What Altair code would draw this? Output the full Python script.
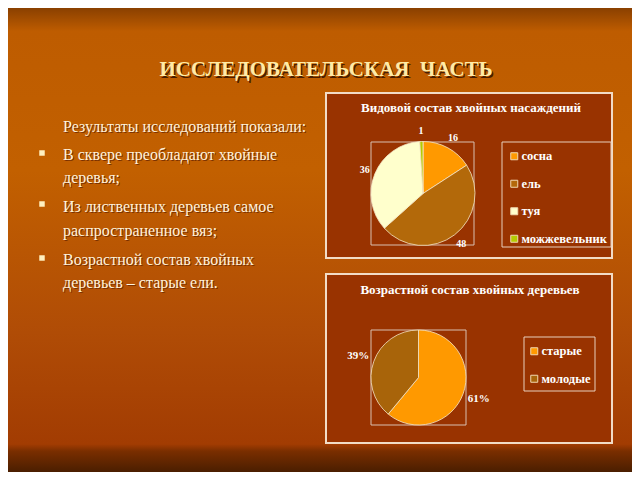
import altair as alt
import pandas as pd

# ---------------- data ----------------
slide_title = "ИССЛЕДОВАТЕЛЬСКАЯ\u00a0 ЧАСТЬ"
intro_line = "Результаты исследований показали:"
bullet_lines = [
    ["В сквере преобладают хвойные", "деревья;"],
    ["Из лиственных деревьев самое", "распространенное вяз;"],
    ["Возрастной состав хвойных", "деревьев – старые ели."],
]

chart1_title = "Видовой состав хвойных насаждений"
species = ["сосна", "ель", "туя", "можжевельник"]
species_counts = [16, 48, 36, 1]
species_colors = ["#FF9900", "#B3690A", "#FFFFCC", "#B5CC00"]

chart2_title = "Возрастной состав хвойных деревьев"
ages = ["старые", "молодые"]
age_percent = [61, 39]
age_colors = ["#FF9900", "#A8640A"]

# ---------------- helpers ----------------
W, H = 624, 464
SERIF = "Liberation Serif"
one = pd.DataFrame({"k": [0]})


def box(x1, y1, x2, y2, fill=None, stroke="#F2DCC6", sw=1.0):
    kw = dict(stroke=stroke, strokeWidth=sw)
    if fill is None:
        kw["fillOpacity"] = 0
        kw["fill"] = "#000000"
    else:
        kw["fill"] = fill
    return alt.Chart(one).mark_rect(**kw).encode(
        x=alt.value(x1), x2=alt.value(x2), y=alt.value(y1), y2=alt.value(y2)
    )


def label(text, x, y, size, color, weight="normal", align="left", dx=0, dy=0):
    return alt.Chart(pd.DataFrame({"t": [text]})).mark_text(
        font=SERIF, fontSize=size, fontWeight=weight, color=color,
        align=align, baseline="middle", dx=dx, dy=dy
    ).encode(text="t:N", x=alt.value(x), y=alt.value(y))


layers = []

# background gradient
layers.append(
    alt.Chart(one).mark_rect(
        fill=alt.LinearGradient(
            gradient="linear", x1=0, x2=0, y1=0, y2=1,
            stops=[
                alt.GradientStop(color="#8A4000", offset=0.0),
                alt.GradientStop(color="#BE5C00", offset=0.05),
                alt.GradientStop(color="#C26000", offset=0.35),
                alt.GradientStop(color="#B04C06", offset=0.7),
                alt.GradientStop(color="#A23C02", offset=0.94),
                alt.GradientStop(color="#7A2E00", offset=0.955),
                alt.GradientStop(color="#4A1E00", offset=1.0),
            ],
        )
    ).encode(x=alt.value(0), x2=alt.value(W), y=alt.value(0), y2=alt.value(H))
)

# slide title with shadow
layers.append(label(slide_title, 318, 62, 21, "#4A1E00", "bold", "center", dx=1.5, dy=1.5))
layers.append(label(slide_title, 318, 62, 21, "#FFEBA6", "bold", "center"))

# body text
text_color = "#FFF3DC"
shadow_color = "#7A3000"
layers.append(label(intro_line, 55, 119, 16, shadow_color, dx=1, dy=1))
layers.append(label(intro_line, 55, 119, 16, text_color))
line_ys = [(147, 170), (199, 223), (252, 275)]
bullet_ys = [145, 196, 250]
for (l1, l2), (y1, y2), by in zip(bullet_lines, line_ys, bullet_ys):
    for t, yy in ((l1, y1), (l2, y2)):
        layers.append(label(t, 55, yy, 16, shadow_color, dx=1, dy=1))
        layers.append(label(t, 55, yy, 16, text_color))
    layers.append(
        alt.Chart(one).mark_square(size=30, color="#FFF0C0", opacity=1).encode(
            x=alt.value(34), y=alt.value(by)
        )
    )

# panels
layers.append(box(318, 85, 604, 250, fill="#993300", sw=2))
layers.append(box(318, 266, 604, 435, fill="#993300", sw=2))
layers.append(label(chart1_title, 463, 100, 13, "#FFFFFF", "bold", "center"))
layers.append(label(chart2_title, 462, 282, 13, "#FFFFFF", "bold", "center"))

# plot area boxes & legend boxes
layers.append(box(363, 134, 466, 237, stroke="#D8C0B0", sw=1))
layers.append(box(363, 322, 458, 417, stroke="#D8C0B0", sw=1))
layers.append(box(494, 134, 603, 239, stroke="#E8D0BC", sw=1))
layers.append(box(516, 329, 587, 383, stroke="#E8D0BC", sw=1))

legend_common = dict(
    orient="none", title=None, symbolType="square", symbolSize=49,
    symbolStrokeColor="#F0D8B0", symbolStrokeWidth=1,
    labelFont=SERIF, labelFontWeight="bold", labelFontSize=12.5,
    labelColor="#FFFFFF", padding=0, labelOffset=1, symbolOpacity=1,
)

# pie 1
df1 = pd.DataFrame({"species": species, "count": species_counts, "idx": range(len(species))})
pie1 = alt.Chart(df1).mark_arc(outerRadius=52, stroke="#F5E6C8", strokeWidth=0.8).encode(
    theta=alt.Theta("count:Q", stack=True),
    color=alt.Color(
        "species:N",
        scale=alt.Scale(domain=species, range=species_colors),
        sort=species,
        legend=alt.Legend(legendX=500, legendY=142, rowPadding=14.5, **legend_common),
    ),
    order=alt.Order("idx:Q"),
    x=alt.value(415), y=alt.value(185.5),
)
pie1_text = alt.Chart(df1).mark_text(
    radius=63, font=SERIF, fontWeight="bold", fontSize=10, color="#FFFFFF"
).encode(
    theta=alt.Theta("count:Q", stack=True),
    order=alt.Order("idx:Q"),
    text=alt.Text("count:Q"),
    x=alt.value(415), y=alt.value(185.5),
)

# pie 2
df2 = pd.DataFrame({"age": ages, "pct": age_percent, "idx": range(len(ages))})
pie2 = alt.Chart(df2).mark_arc(outerRadius=47.5, stroke="#F5E6C8", strokeWidth=0.8).encode(
    theta=alt.Theta("pct:Q", stack=True),
    color=alt.Color(
        "age:N",
        scale=alt.Scale(domain=ages, range=age_colors),
        sort=ages,
        legend=alt.Legend(legendX=520, legendY=337, rowPadding=14.5, **legend_common),
    ),
    order=alt.Order("idx:Q"),
    x=alt.value(410.5), y=alt.value(369.5),
)
pie2_text = alt.Chart(df2).transform_calculate(
    lbl="datum.pct + '%'"
).mark_text(
    radius=64, font=SERIF, fontWeight="bold", fontSize=11, color="#FFFFFF"
).encode(
    theta=alt.Theta("pct:Q", stack=True),
    order=alt.Order("idx:Q"),
    text=alt.Text("lbl:N"),
    x=alt.value(410.5), y=alt.value(369.5),
)

layers += [pie1, pie1_text, pie2, pie2_text]

chart = alt.layer(*layers).resolve_scale(
    theta="independent", color="independent"
).properties(
    width=W, height=H, padding=0, autosize=alt.AutoSizeParams(type="none"),
    background="#A04000",
).configure_view(stroke=None)

chart.save("out.html", embed_options={"renderer": "svg", "actions": False})
